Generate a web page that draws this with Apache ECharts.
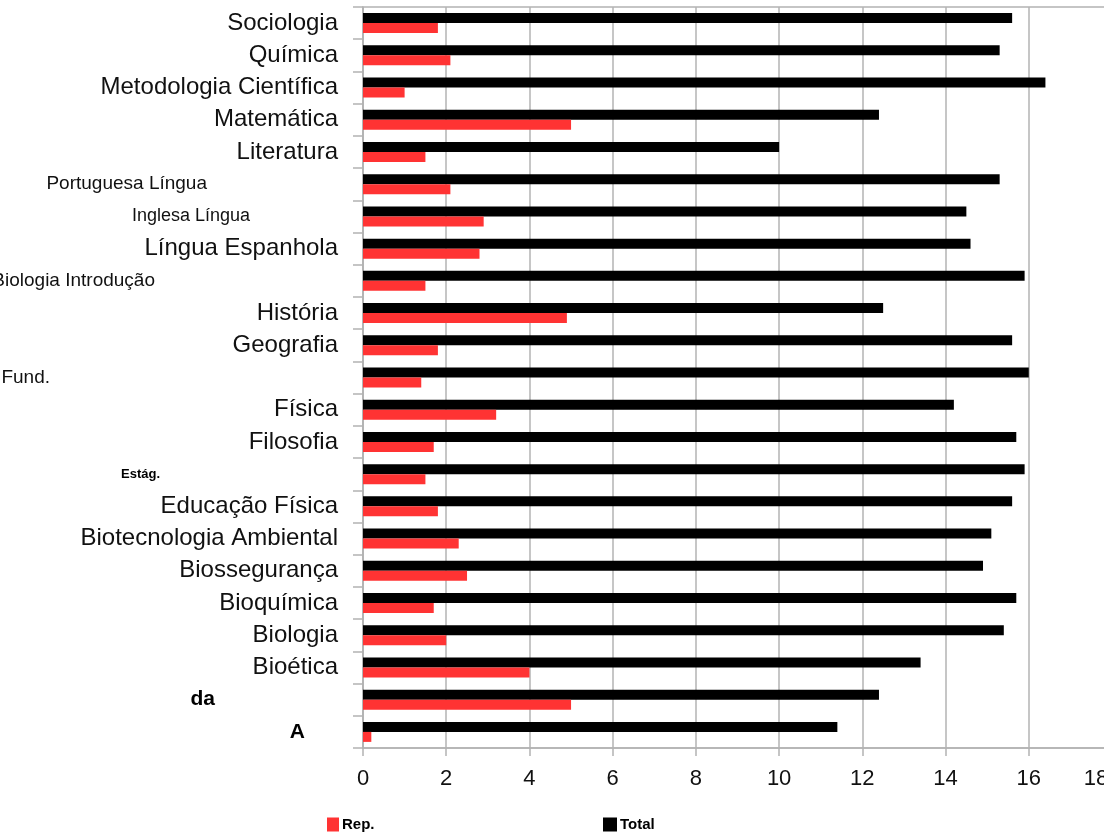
<!DOCTYPE html>
<html>
<head>
<meta charset="utf-8">
<script src="https://cdn.jsdelivr.net/npm/echarts@6/dist/echarts.min.js"></script>
<style>html,body{margin:0;padding:0;background:#fff;}#c{width:1104px;height:836px;}</style>
</head>
<body>
<div id="c"></div>
<script>
// Categories, listed top to bottom as in the picture
const categories = ['Sociologia','Química','Metodologia Científica','Matemática','Literatura','Língua Portuguesa','Língua Inglesa','Língua Espanhola','Introdução à Biologia','História','Geografia','Fund.','Física','Filosofia','Estág.','Educação Física','Biotecnologia Ambiental','Biossegurança','Bioquímica','Biologia','Bioética','da','A'];
const blackValues = [15.6,15.3,16.4,12.4,10.0,15.3,14.5,14.6,15.9,12.5,15.6,16.0,14.2,15.7,15.9,15.6,15.1,14.9,15.7,15.4,13.4,12.4,11.4];
const redValues   = [1.8,2.1,1.0,5.0,1.5,2.1,2.9,2.8,1.5,4.9,1.8,1.4,3.2,1.7,1.5,1.8,2.3,2.5,1.7,2.0,4.0,5.0,0.2];
const xTicks = [0,2,4,6,8,10,12,14,16,18];
const seriesNames = ['Rep.','Total'];

// Display forms of the labels that are drawn garbled / shifted in the reference
const labelDisplay = {
  'Língua Portuguesa': '{pt|Portuguesa Língua}',
  'Língua Inglesa': '{ing|Inglesa Língua}',
  'Introdução à Biologia': '{intro|Biologia Introdução}',
  'Fund.': '{fund|Fund.}',
  'Estág.': '{est|Estág.}',
  'da': '{da|da}',
  'A': '{a|A}'
};

const chart = echarts.init(document.getElementById('c'));
const grey = '#b3b3b3';
const ff = 'Liberation Sans, Arial, sans-serif';
const xMax = xTicks[xTicks.length-1];
chart.setOption({
  animation: false,
  backgroundColor: '#fff',
  grid: {left: 363, right: -8, top: 7, bottom: 88, show: true, borderColor: grey, borderWidth: 1.5,
         containLabel: false, outerBoundsMode: 'none'},
  legend: [
    {data: [seriesNames[0]], left: 322, top: 812, icon: 'rect', itemWidth: 12, itemHeight: 14, itemGap: 4,
     textStyle: {fontSize: 15, fontWeight: 'bold', color: '#000', fontFamily: ff, padding: [0,0,0,-2]}},
    {data: [seriesNames[1]], left: 598, top: 812, icon: 'rect', itemWidth: 14, itemHeight: 14, itemGap: 4,
     textStyle: {fontSize: 15, fontWeight: 'bold', color: '#000', fontFamily: ff, padding: [0,0,0,-2]}}
  ],
  xAxis: {
    type: 'value', min: xTicks[0], max: xMax, interval: xTicks[1]-xTicks[0],
    axisLine: {show: true, lineStyle: {color: grey, width: 1.5}},
    axisTick: {show: true, length: 8, lineStyle: {color: grey, width: 1.5}},
    splitLine: {show: true, lineStyle: {color: grey, width: 1.5}},
    axisLabel: {fontSize: 22, color: '#111', fontFamily: ff, margin: 20, showMaxLabel: true,
      formatter: v => Number(v) === xMax ? '{m|' + v + '}{s|}' : String(v),
      rich: {m: {fontSize: 22, color: '#111', fontFamily: ff}, s: {width: 32, fontSize: 22}}}
  },
  yAxis: {
    type: 'category', data: categories, inverse: true,
    axisLine: {show: true, lineStyle: {color: grey, width: 1.5}},
    axisTick: {show: true, length: 10, alignWithLabel: false, lineStyle: {color: grey, width: 1.5}},
    splitLine: {show: false},
    axisLabel: {
      interval: 0, fontSize: 24, color: '#111', fontFamily: ff, margin: 25,
      formatter: v => labelDisplay[v] || v,
      rich: {
        pt: {fontSize: 19, color: '#111', fontFamily: ff, padding: [0,131,0,0]},
        ing: {fontSize: 18, color: '#111', fontFamily: ff, padding: [0,88,0,0]},
        intro: {fontSize: 19, color: '#111', fontFamily: ff, padding: [0,183,0,0]},
        fund: {fontSize: 19, color: '#111', fontFamily: ff, padding: [0,288,0,0]},
        est: {fontSize: 13, fontWeight: 'bold', color: '#000', fontFamily: ff, padding: [0,178,0,0]},
        da: {fontSize: 21, fontWeight: 'bold', color: '#000', fontFamily: ff, padding: [0,123,0,0]},
        a: {fontSize: 21, fontWeight: 'bold', color: '#000', fontFamily: ff, padding: [0,33,0,0]}
      }
    }
  },
  series: [
    {name: seriesNames[1], type: 'bar', data: blackValues, barWidth: 10, barGap: '0%', itemStyle: {color: '#000000'}},
    {name: seriesNames[0], type: 'bar', data: redValues, barWidth: 10, barGap: '0%', itemStyle: {color: '#ff3333'}}
  ]
});
</script>
</body>
</html>
